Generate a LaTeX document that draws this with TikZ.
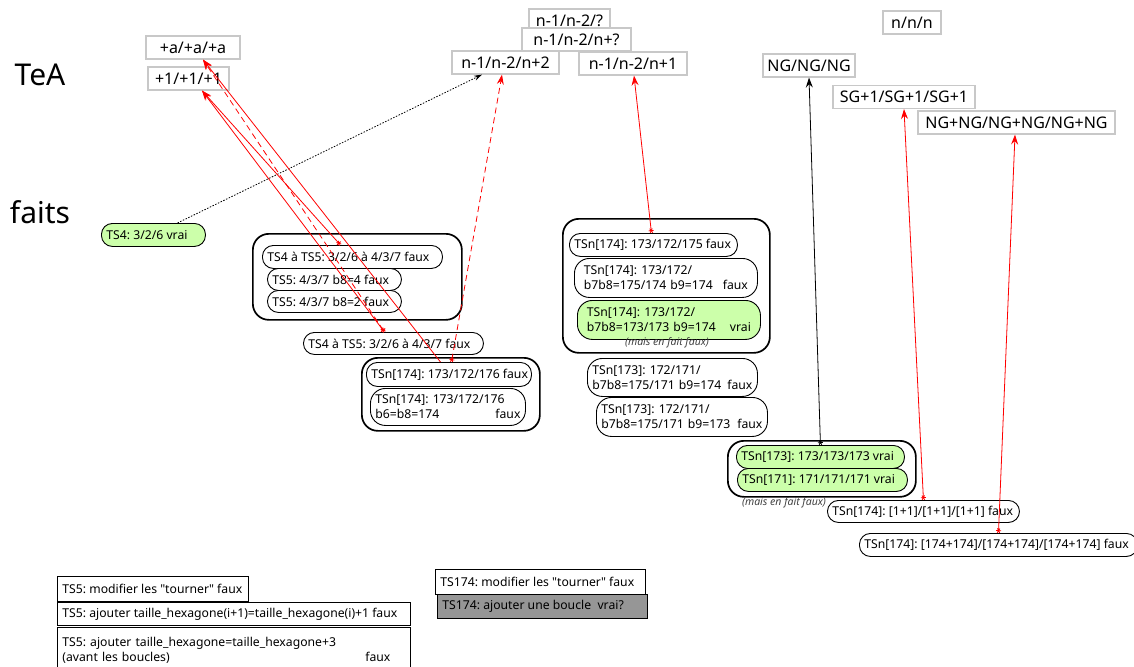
\documentclass[tikz,border=0pt]{standalone}
\usepackage{fontspec}
\setmainfont{Noto Sans}
\usetikzlibrary{arrows.meta}
\definecolor{vert}{RGB}{204,255,170}
\definecolor{cadre}{RGB}{200,200,200}
\definecolor{gris}{RGB}{150,150,150}
\newcommand\factfont{\fontsize{12.2}{15}\selectfont\frenchspacing}
\newcommand\teafont{\fontsize{16}{19}\selectfont}
\newcommand\titlefont{\fontsize{30}{36}\selectfont}
\newcommand\notefont{\fontsize{10.5}{12}\selectfont\itshape}
\newcommand\ligne[2]{\makebox[\linewidth][l]{#1\hfill#2}}

\begin{document}
\begin{tikzpicture}[x=1pt, y=-1pt, font=\factfont,
    tea/.style={draw=cadre, line width=1.2pt, fill=white, font=\teafont, minimum height=23pt, inner sep=0pt},
    fact/.style={draw, line width=0.9pt, fill=white, rounded corners=11pt, anchor=north west, inner xsep=5pt, inner ysep=0pt, minimum height=23pt, execute at begin node={\hbox to #1\bgroup}, execute at end node={\hss\egroup}},
    fact2/.style={draw, line width=0.9pt, fill=white, rounded corners=15pt, anchor=north west, inner xsep=5pt, inner ysep=0pt, minimum height=39pt, text width=#1, align=left},
    grp/.style={draw, line width=1.7pt, rounded corners=16pt, anchor=north west, inner sep=0pt},
    tache/.style={draw, line width=0.9pt, fill=white, anchor=north west, inner xsep=5pt, inner ysep=0pt, minimum height=24pt, execute at begin node={\hbox to #1\bgroup}, execute at end node={\hss\egroup}},
    note/.style={font=\notefont, text=black!75},
    lien/.style={red, line width=0.8pt, {Rays[n=6,length=5pt,width=5pt]}-{Stealth[length=10pt,width=7pt,inset=3.5pt]}}]
    \useasboundingbox (0,0) rectangle (1134,666);
    \node[font=\titlefont] (tea) at (40,75) {TeA};
    \node[font=\titlefont] (faits) at (40,212) {faits};

    \node[tea, minimum width=94pt] (pa) at (193,47.5) {+a/+a/+a};
    \node[tea, minimum width=81pt] (p1) at (188.5,78.5) {+1/+1/+1};
    \node[tea, minimum width=81pt] (nq) at (569.5,20.5) {n-1/n-2/?};
    \node[tea, minimum width=109pt] (nqq) at (576.5,39.5) {n-1/n-2/n+?};
    \node[tea, minimum width=107pt] (n2) at (505.5,62.5) {n-1/n-2/n+2};
    \node[tea, minimum width=108pt] (n1) at (633,63.5) {n-1/n-2/n+1};
    \node[tea, minimum width=58pt] (nnn) at (912,22.5) {n/n/n};
    \node[tea, minimum width=92pt] (ng) at (809,65.5) {NG/NG/NG};
    \node[tea, minimum width=142pt] (sg) at (904,97) {SG+1/SG+1/SG+1};
    \node[tea, minimum width=197pt] (ngng) at (1016.5,122.5) {NG+NG/NG+NG/NG+NG};

    \node[fact=94pt, fill=vert] (ts4) at (101,223) {TS4: 3/2/6 vrai};

    \node[grp, minimum width=209pt, minimum height=86pt] (g1) at (252,233) {};
    \node[fact=170pt] (f1a) at (262,245) {TS4 à TS5: 3/2/6 à 4/3/7 faux};
    \node[fact=124pt, minimum height=22pt] (f1b) at (267,268) {TS5: 4/3/7 b8=4 faux};
    \node[fact=124pt, minimum height=22pt] (f1c) at (267,290) {TS5: 4/3/7 b8=2 faux};
    \node[fact=170pt, minimum height=22pt] (f2) at (303,332) {TS4 à TS5: 3/2/6 à 4/3/7 faux};

    \node[grp, minimum width=178pt, minimum height=73pt] (g2) at (361,357) {};
    \node[fact=155pt, minimum height=24pt] (f3a) at (366,362) {TSn[174]: 173/172/176 faux};
    \node[fact2=145pt, minimum height=37pt] (f3b) at (370,388) {TSn[174]: 173/172/176\\\ligne{b6=b8=174}{faux}};

    \node[grp, minimum width=207pt, minimum height=134pt] (g3) at (562,218) {};
    \node[fact=158pt] (f4a) at (569,233) {TSn[174]: 173/172/175 faux};
    \node[fact2=164pt, inner xsep=9.5pt] (f4b) at (574,258) {TSn[174]: 173/172/\\\ligne{b7b8=175/174 b9=174}{faux}};
    \node[fact2=164pt, inner xsep=9.5pt, fill=vert] (f4c) at (577,300) {TSn[174]: 173/172/\\\ligne{b7b8=173/173 b9=174}{vrai}};
    \node[note] (m1) at (667,343) {(mais en fait faux)};
    \node[fact2=160pt, minimum height=38pt] (f5) at (587,358) {TSn[173]: 172/171/\\\ligne{b7b8=175/171 b9=174}{faux}};
    \node[fact2=161pt] (f6) at (596,397) {TSn[173]: 172/171/\\\ligne{b7b8=175/171 b9=173}{faux}};

    \node[grp, minimum width=188pt, minimum height=56pt] (g4) at (727,440) {};
    \node[fact=158pt, fill=vert] (f7) at (736,445) {TSn[173]: 173/173/173 vrai};
    \node[fact=160pt, fill=vert] (f8) at (737,468) {TSn[171]: 171/171/171 vrai};
    \node[note] (m2) at (784,503) {(mais en fait faux)};
    \node[fact=182pt, minimum height=22pt] (f9) at (827,500) {TSn[174]: [1+1]/[1+1]/[1+1] faux};
    \node[fact=268pt] (f10) at (859,533) {TSn[174]: [174+174]/[174+174]/[174+174] faux};

    \node[tache=181pt, minimum height=25pt] (b1) at (57,576) {TS5: modifier les \textquotedbl tourner\textquotedbl{} faux};
    \node[tache=343pt, minimum height=23pt] (b2) at (57,602) {TS5: ajouter taille\_hexagone(i+1)=taille\_hexagone(i)+1 faux};
    \node[fact2=343pt, sharp corners, minimum height=46pt] (b3) at (57,627) {TS5: ajouter taille\_hexagone=taille\_hexagone+3\\\ligne{(avant les boucles)}{faux\hspace{15pt}}};
    \node[tache=200pt, minimum height=25pt] (t1) at (435,569) {TS174: modifier les \textquotedbl tourner\textquotedbl{} faux};
    \node[tache=200pt, fill=gris] (t2) at (437,594) {TS174: ajouter une boucle\ \ vrai?};

    \draw[line width=0.8pt, dash pattern=on 1.5pt off 1.5pt, -{Stealth[length=8pt,width=5pt,inset=2.5pt]}] ([xshift=24pt]ts4.north) -- ([xshift=-23.5pt]n2.south);
    \draw[lien, dash pattern=on 6pt off 4pt] ([xshift=2.5pt]f3a.north) -- ([xshift=-3.5pt]n2.south);
    \draw[lien] ([xshift=-2pt]f4a.north) -- ([xshift=1pt]n1.south);
    \draw[lien, black] (f7.north) -- (ng.south);
    \draw[lien] (f9.north) -- (sg.south);
    \draw[lien] (f10.north) -- ([xshift=-1.5pt]ngng.south);
    \draw[lien] ([xshift=-12pt]f1a.north) -- ([xshift=13.5pt]p1.south);
    \draw[lien] ([xshift=-9pt]f2.north) -- ([xshift=13.5pt]p1.south);
    \draw[lien, dash pattern=on 6pt off 4pt] ([xshift=-9pt]f2.north) -- ([xshift=10pt]pa.south);
    \draw[lien, -{Stealth[length=10pt,width=7pt,inset=3.5pt]}] ([xshift=-8.5pt]f3a.north) -- ([xshift=10pt]pa.south);
\end{tikzpicture}
\end{document}
